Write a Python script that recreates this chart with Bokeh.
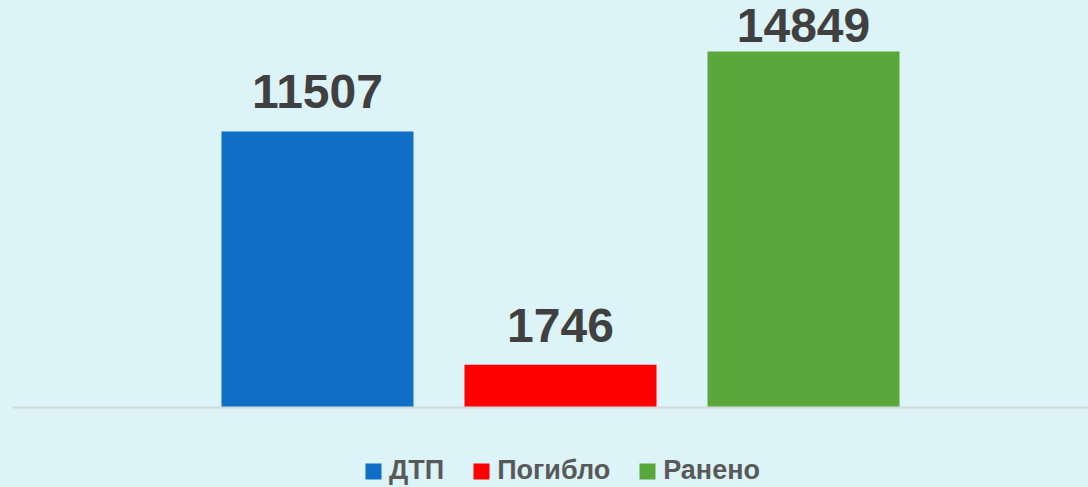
from bokeh.plotting import figure
from bokeh.models import ColumnDataSource, Legend, LegendItem
from bokeh.core.properties import value
from bokeh.embed import file_html
from bokeh.resources import INLINE

# data
categories = ["ДТП", "Погибло", "Ранено"]
values = [11507, 1746, 14849]
colors = ["#0F6EC6", "#FF0000", "#5AA83C"]

# styles (label offsets in px)
label_offsets = [-40, -39, -26]
positions = [1, 2, 3]

BG = "#DCF4F8"
W, H = 1088, 487

p = figure(width=W, height=H, output_backend="svg", toolbar_location=None,
           x_range=(-0.30453, 4.17284), y_range=(-3389, 16987),
           min_border=0, min_border_left=0, min_border_right=0,
           min_border_top=0, min_border_bottom=0)
p.background_fill_color = BG
p.border_fill_color = BG
p.outline_line_color = None
p.xaxis.visible = False
p.yaxis.visible = False
p.xgrid.visible = False
p.ygrid.visible = False

src = ColumnDataSource(dict(x=positions, top=values, color=colors, cat=categories,
                            label=[str(v) for v in values], yoff=label_offsets))

# baseline axis line
p.segment(x0=[-0.25514], y0=[-40], x1=[4.3], y1=[-40], line_color="#D3D8D9", line_width=2)

bars = p.vbar(x="x", top="top", bottom=0, width=0.7901, fill_color="color",
              line_color=None, source=src)

p.text(x="x", y="top", text="label", y_offset="yoff", source=src,
       text_align="center", text_baseline="middle",
       text_font=value("Liberation Sans"), text_font_style="bold",
       text_font_size="48px", text_color="#404040")

items = [LegendItem(label=c, renderers=[bars], index=i) for i, c in enumerate(categories)]
legend = Legend(items=items, orientation="horizontal", location=(363, 1),
                glyph_width=20, glyph_height=20, label_standoff=6, spacing=27,
                padding=0, margin=0, border_line_color=None,
                background_fill_alpha=0, label_text_font="Liberation Sans",
                label_text_font_style="bold", label_text_font_size="27px",
                label_text_color="#595959", label_text_baseline="middle",
                label_height=20)
p.add_layout(legend, "center")

html = file_html(p, INLINE)
html = html.replace("<head>", "<head><style>html,body{background:%s;}</style>" % BG, 1)
open("out.html", "w").write(html)
